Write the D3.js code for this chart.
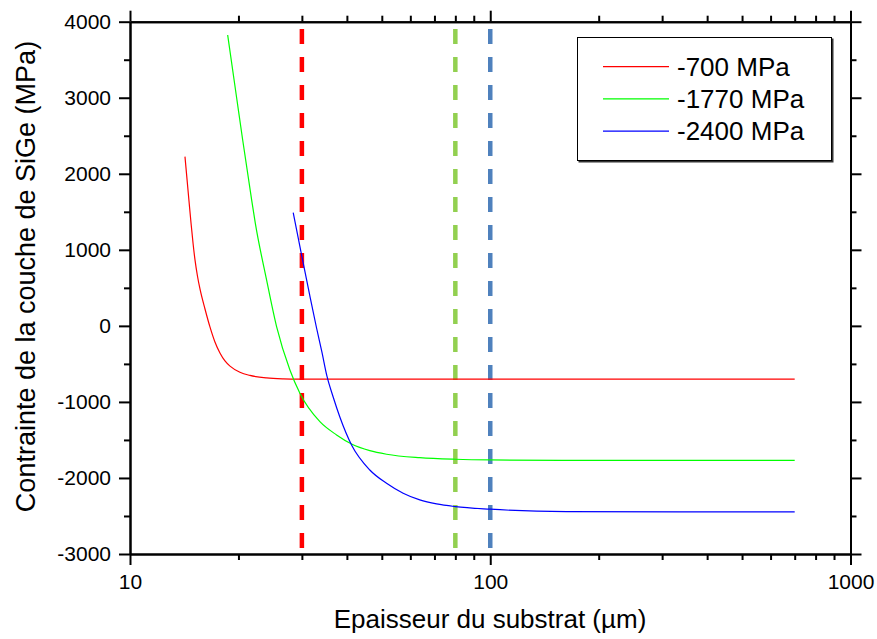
<!DOCTYPE html>
<html>
<head>
<meta charset="utf-8">
<script src="https://cdn.jsdelivr.net/npm/d3@7"></script>
<style>
  html, body { margin: 0; padding: 0; background: #fff; }
  svg { display: block; font-family: Arial, "Liberation Sans", sans-serif; }
</style>
</head>
<body>
<svg id="chart" width="877" height="639"></svg>
<script>
// ---- data ----
const redX  = [14.21, 14.58, 14.77, 14.96, 15.15, 15.39, 15.64, 16.15, 16.67, 17.21, 17.77, 18.35, 18.95, 20.19, 21.52, 23.94, 26.62, 29.62, 40, 60, 100, 200, 400, 700];
const redY  = [2225, 1642, 1353, 1090, 867, 656, 485, 222, -14, -212, -356, -461, -530, -610, -652, -685, -696, -699, -700, -700, -700, -700, -700, -700];
const greenX = [18.67, 19.81, 20.55, 21.76, 22.28, 23.94, 25.52, 27.79, 29.62, 33.66, 37.45, 41.21, 46.31, 51.54, 63.74, 80, 100, 162.7, 300, 700];
const greenY = [3825, 2970, 2444, 1656, 1349, 604, -10, -580, -886, -1260, -1434, -1553, -1641, -1688, -1733, -1754, -1763, -1768, -1770, -1770];
const blueX = [28.38, 30.25, 31.57, 32.95, 34.09, 35.2, 36.64, 38.24, 41.21, 46.31, 51.54, 57.31, 63.74, 70.94, 80, 100, 162.7, 335.5, 700];
const blueY = [1489, 827, 393, -28, -343, -659, -935, -1198, -1566, -1895, -2070, -2201, -2289, -2342, -2377, -2411, -2443, -2447, -2447];
const seriesNames = ["-700 MPa", "-1770 MPa", "-2400 MPa"];
const seriesColors = ["#ff0000", "#00ff00", "#0000ff"];
const markerX = [30, 80, 100];
const markerColors = ["#ff0000", "#92d050", "#4f81bd"];
const xTickValues = [10, 100, 1000];
const xTickLabels = ["10", "100", "1000"];
const yTickValues = [-3000, -2000, -1000, 0, 1000, 2000, 3000, 4000];
const xTitle = "Epaisseur du substrat (µm)";
const yTitle = "Contrainte de la couche de SiGe (MPa)";

// ---- layout ----
const L = 130, R = 850.5, T = 21.7, B = 554;
const svg = d3.select("#chart");
const x = d3.scaleLog().domain([10, 1000]).range([L, R]);
const y = d3.scaleLinear().domain([-3000, 4000]).range([B, T]);

const minorX = [];
[10, 100].forEach(d => { for (let k = 2; k <= 9; k++) minorX.push(d * k); });
const minorY = d3.range(-2500, 4000, 1000);

// dashed markers
svg.append("g").selectAll("line").data(markerX).join("line")
  .attr("x1", d => x(d)).attr("x2", d => x(d))
  .attr("y1", 29).attr("y2", 549)
  .attr("stroke", (d, i) => markerColors[i])
  .attr("stroke-width", 4.5)
  .attr("stroke-dasharray", "15,13");

// curves
const line = d3.line().x(d => x(d[0])).y(d => y(d[1])).curve(d3.curveMonotoneX);
const series = [
  d3.zip(redX, redY),
  d3.zip(greenX, greenY),
  d3.zip(blueX, blueY)
];
svg.append("g").selectAll("path").data(series).join("path")
  .attr("d", line)
  .attr("fill", "none")
  .attr("stroke", (d, i) => seriesColors[i])
  .attr("stroke-width", 1.2);

// axes
const fmt = d => String(d);
function styleAxis(g) {
  g.select(".domain").attr("stroke", "#000").attr("stroke-width", 2);
  g.selectAll(".tick line").attr("stroke", "#000").attr("stroke-width", 2);
  g.selectAll(".tick text").attr("fill", "#000").style("font-size", "21px");
}
// bottom
svg.append("g").attr("transform", `translate(0,${B})`)
  .call(d3.axisBottom(x).tickValues(xTickValues).tickFormat((d, i) => xTickLabels[i]).tickSize(11).tickPadding(9).tickSizeOuter(0))
  .call(styleAxis);
svg.append("g").attr("transform", `translate(0,${B})`)
  .call(d3.axisBottom(x).tickValues(minorX).tickFormat("").tickSize(6).tickSizeOuter(0))
  .call(styleAxis);
// top
svg.append("g").attr("transform", `translate(0,${T})`)
  .call(d3.axisTop(x).tickValues(xTickValues).tickFormat("").tickSize(11).tickSizeOuter(0))
  .call(styleAxis);
svg.append("g").attr("transform", `translate(0,${T})`)
  .call(d3.axisTop(x).tickValues(minorX).tickFormat("").tickSize(6).tickSizeOuter(0))
  .call(styleAxis);
// left
svg.append("g").attr("transform", `translate(${L},0)`)
  .call(d3.axisLeft(y).tickValues(yTickValues).tickFormat(fmt).tickSize(11).tickPadding(8).tickSizeOuter(0))
  .call(styleAxis);
svg.append("g").attr("transform", `translate(${L},0)`)
  .call(d3.axisLeft(y).tickValues(minorY).tickFormat("").tickSize(6).tickSizeOuter(0))
  .call(styleAxis);
// right
svg.append("g").attr("transform", `translate(${R},0)`)
  .call(d3.axisRight(y).tickValues(yTickValues).tickFormat("").tickSize(11).tickSizeOuter(0))
  .call(styleAxis);
svg.append("g").attr("transform", `translate(${R},0)`)
  .call(d3.axisRight(y).tickValues(minorY).tickFormat("").tickSize(6).tickSizeOuter(0))
  .call(styleAxis);

// titles
svg.append("text").attr("x", 490).attr("y", 628)
  .attr("text-anchor", "middle").style("font-size", "26px").text(xTitle);
svg.append("text").attr("transform", `translate(35,276.5) rotate(-90)`)
  .attr("text-anchor", "middle").style("font-size", "27px").text(yTitle);

// legend
const lg = svg.append("g");
lg.append("rect").attr("x", 578.5).attr("y", 38.5).attr("width", 255).attr("height", 124).attr("fill", "#333");
lg.append("rect").attr("x", 577.5).attr("y", 37.5).attr("width", 254).attr("height", 123)
  .attr("fill", "#fff").attr("stroke", "#000").attr("stroke-width", 1);
const rows = lg.selectAll("g.row").data(seriesNames).join("g").attr("class", "row")
  .attr("transform", (d, i) => `translate(0,${66.7 + i * 32.2})`);
rows.append("line").attr("x1", 603).attr("x2", 669).attr("y1", 0).attr("y2", 0)
  .attr("stroke", (d, i) => seriesColors[i]).attr("stroke-width", 1.2);
rows.append("text").attr("x", 677).attr("y", 9).style("font-size", "26px").text(d => d);
</script>
</body>
</html>
